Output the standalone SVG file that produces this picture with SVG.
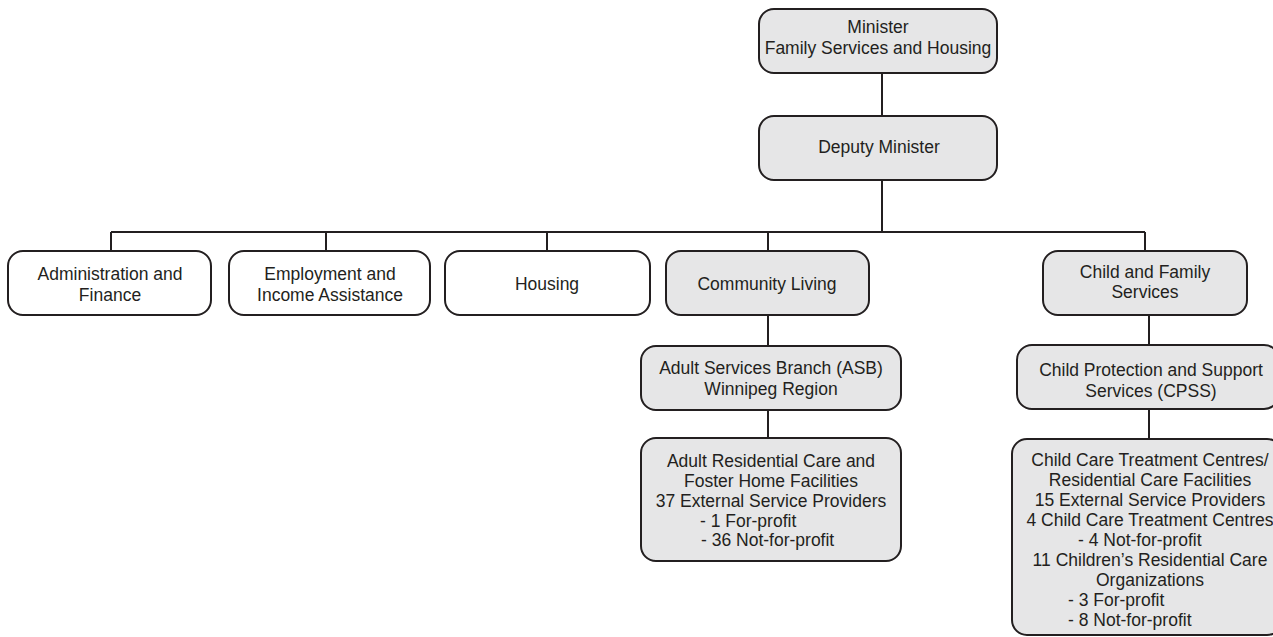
<svg xmlns="http://www.w3.org/2000/svg" width="1273" height="637" viewBox="0 0 1273 637">
<style>
.b{fill:#fff;stroke:#231f20;stroke-width:2}
.g{fill:#e6e6e7;stroke:#231f20;stroke-width:2}
.t{font-family:"Liberation Sans",Arial,sans-serif;font-size:17.5px;fill:#231f20;text-anchor:middle}
.s{text-anchor:start}
.c{fill:none;stroke:#231f20;stroke-width:2}
</style>
<rect width="1273" height="637" fill="#fff"/>
<g id="connectors">
<path class="c" d="M882 73V115M882 180V232M111 232H1145M111 232V251M326 232V251M547 232V251M768 232V251M1145 232V251M768 315V346M768 410V438M1149 315V345M1149 409V439"/>
</g>
<g id="minister"><rect class="g" x="759" y="9" width="238" height="64" rx="15"/><text class="t" x="878" y="33">Minister</text><text class="t" x="878" y="54">Family Services and Housing</text></g>
<g id="deputy"><rect class="g" x="759" y="116" width="238" height="64" rx="15"/><text class="t" x="879" y="153">Deputy Minister</text></g>
<g id="admin"><rect class="b" x="8" y="251" width="203" height="64" rx="15"/><text class="t" x="110" y="280">Administration and</text><text class="t" x="110" y="301">Finance</text></g>
<g id="employment"><rect class="b" x="229" y="251" width="201" height="64" rx="15"/><text class="t" x="330" y="280">Employment and</text><text class="t" x="330" y="301">Income Assistance</text></g>
<g id="housing"><rect class="b" x="445" y="251" width="205" height="64" rx="15"/><text class="t" x="547" y="290">Housing</text></g>
<g id="community"><rect class="g" x="666" y="251" width="203" height="64" rx="15"/><text class="t" x="767" y="290">Community Living</text></g>
<g id="cfs"><rect class="g" x="1043" y="251" width="204" height="64" rx="15"/><text class="t" x="1145" y="278">Child and Family</text><text class="t" x="1145" y="298">Services</text></g>
<g id="asb"><rect class="g" x="641" y="346" width="260" height="64" rx="15"/><text class="t" x="771" y="374">Adult Services Branch (ASB)</text><text class="t" x="771" y="395">Winnipeg Region</text></g>
<g id="cpss"><rect class="g" x="1017" y="345" width="262" height="64" rx="15"/><text class="t" x="1151" y="376">Child Protection and Support</text><text class="t" x="1151" y="397">Services (CPSS)</text></g>
<g id="adultres"><rect class="g" x="641" y="438" width="260" height="123" rx="15"/>
<text class="t" x="771" y="467">Adult Residential Care and</text>
<text class="t" x="771" y="487">Foster Home Facilities</text>
<text class="t" x="771" y="507">37 External Service Providers</text>
<text class="t s" x="700" y="527">- 1 For-profit</text>
<text class="t s" x="701" y="546">- 36 Not-for-profit</text></g>
<g id="childcare"><rect class="g" x="1012" y="439" width="270" height="196" rx="15"/>
<text class="t" x="1150" y="466">Child Care Treatment Centres/</text>
<text class="t" x="1150" y="486">Residential Care Facilities</text>
<text class="t" x="1150" y="506">15 External Service Providers</text>
<text class="t" x="1150" y="526">4 Child Care Treatment Centres</text>
<text class="t s" x="1078" y="546">- 4 Not-for-profit</text>
<text class="t" x="1150" y="566">11 Children’s Residential Care</text>
<text class="t" x="1150" y="586">Organizations</text>
<text class="t s" x="1068" y="606">- 3 For-profit</text>
<text class="t s" x="1068" y="626">- 8 Not-for-profit</text></g>
</svg>
